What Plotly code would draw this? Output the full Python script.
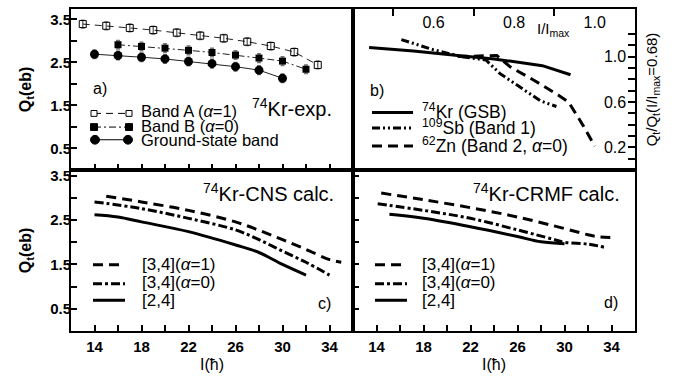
import plotly.graph_objects as go

# ---------------- data ----------------
# panel a) 74Kr experiment
I_bandA = [13, 15, 17, 19, 21, 23, 25, 27, 29, 31, 33]
Q_bandA = [3.39, 3.35, 3.30, 3.25, 3.19, 3.12, 3.06, 2.98, 2.88, 2.74, 2.44]
dQ_bandA = [0.09, 0.09, 0.09, 0.09, 0.09, 0.09, 0.09, 0.09, 0.09, 0.09, 0.09]
I_bandB = [16, 18, 20, 22, 24, 26, 28, 30, 32]
Q_bandB = [2.91, 2.87, 2.83, 2.78, 2.73, 2.67, 2.60, 2.53, 2.34]
dQ_bandB = [0.10, 0.10, 0.10, 0.10, 0.10, 0.10, 0.10, 0.10, 0.10]
I_gsb = [14, 16, 18, 20, 22, 24, 26, 28, 30]
Q_gsb = [2.69, 2.66, 2.62, 2.58, 2.52, 2.47, 2.40, 2.32, 2.13]
dQ_gsb = [0.10, 0.10, 0.10, 0.10, 0.10, 0.10, 0.10, 0.10, 0.10]

# panel b) normalised Qt vs I/Imax
x_kr = [0.44, 0.55, 0.66, 0.75, 0.87, 0.94]
y_kr = [1.08, 1.05, 1.01, 0.98, 0.92, 0.84]
x_sb = [0.52, 0.60, 0.67, 0.73, 0.765, 0.82, 0.865, 0.905]
y_sb = [1.15, 1.06, 1.00, 0.97, 0.85, 0.72, 0.61, 0.56]
x_zn = [0.66, 0.72, 0.757, 0.79, 0.85, 0.91, 0.935, 0.97, 1.0]
y_zn = [1.00, 1.01, 1.01, 0.91, 0.79, 0.66, 0.60, 0.40, 0.21]

# panel c) CNS calc.
I_cns_a1 = [15, 18, 22, 26, 28, 30, 32, 34, 35]
Q_cns_a1 = [3.04, 2.91, 2.72, 2.46, 2.27, 2.06, 1.84, 1.61, 1.55]
I_cns_a0 = [14, 18, 22, 26, 28, 30, 32, 34]
Q_cns_a0 = [2.91, 2.76, 2.54, 2.28, 2.06, 1.80, 1.55, 1.26]
I_cns_24 = [14, 16, 18, 22, 26, 28, 30, 32]
Q_cns_24 = [2.62, 2.57, 2.46, 2.24, 1.94, 1.77, 1.50, 1.26]

# panel d) CRMF calc.
I_crmf_a1 = [14.4, 18, 22, 26, 30, 32, 33, 34.3]
Q_crmf_a1 = [3.11, 2.96, 2.78, 2.57, 2.31, 2.17, 2.12, 2.11]
I_crmf_a0 = [14.1, 18, 22, 26, 29, 30, 32, 33.5]
Q_crmf_a0 = [2.87, 2.72, 2.54, 2.28, 2.07, 2.00, 1.96, 1.88]
I_crmf_24 = [15.1, 18, 22, 26, 28, 30]
Q_crmf_24 = [2.63, 2.54, 2.35, 2.13, 2.01, 1.97]

# ticks
I_tickvals = [14, 16, 18, 20, 22, 24, 26, 28, 30, 32, 34]
I_ticktext = ['14', '', '18', '', '22', '', '26', '', '30', '', '34']
Q_tickvals = [0.5, 1.0, 1.5, 2.0, 2.5, 3.0, 3.5]
Q_ticktext = ['0.5', '', '1.5', '', '2.5', '', '3.5']
r_tickvals = [0.6, 0.8, 1.0]
r_ticktext = ['0.6', '0.8', '1.0']
r_minorvals = [0.5, 0.7, 0.9]
n_tickvals = [0.1, 0.2, 0.3, 0.4, 0.5, 0.6, 0.7, 0.8, 0.9, 1.0, 1.1, 1.2, 1.3]
n_ticktext = ['', '0.2', '', '', '', '0.6', '', '', '', '1.0', '', '', '']

# ---------------- layout helpers ----------------
W, H = 674, 377
ML, MR, MT, MB = 71, 39, 6, 41
PW, PH = W - ML - MR, H - MT - MB
def px(x):
    return (x - ML) / PW
def py(y):
    return (H - MB - y) / PH

FONT = "Liberation Sans, Arial, Helvetica, sans-serif"
DASH_LONG = "10px,6px"
DASH_DOT = "9px,3px,3px,3px"
DASH_DOT2 = "8px,3px,2px,3px,2px,3px"

fig = go.Figure()

# panel a
fig.add_trace(go.Scatter(
    x=I_bandA, y=Q_bandA, xaxis='x', yaxis='y', mode='lines+markers',
    error_y=dict(type='data', array=dQ_bandA, color='#777', thickness=1.5, width=2),
    line=dict(color='#222', width=1, dash='7px,5px'),
    marker=dict(symbol='square-open', size=7, color='black', line=dict(width=1))))
fig.add_trace(go.Scatter(
    x=I_bandB, y=Q_bandB, xaxis='x', yaxis='y', mode='lines+markers',
    error_y=dict(type='data', array=dQ_bandB, color='#777', thickness=1.5, width=2),
    line=dict(color='#222', width=1, dash='7px,3px,2px,3px'),
    marker=dict(symbol='square', size=7, color='black')))
fig.add_trace(go.Scatter(
    x=I_gsb, y=Q_gsb, xaxis='x', yaxis='y', mode='lines+markers',
    error_y=dict(type='data', array=dQ_gsb, color='#777', thickness=1.5, width=2),
    line=dict(color='#222', width=1),
    marker=dict(symbol='circle', size=9, color='black')))

# panel b
fig.add_trace(go.Scatter(x=x_kr, y=y_kr, xaxis='x2', yaxis='y2', mode='lines',
                         line=dict(color='black', width=3)))
fig.add_trace(go.Scatter(x=x_sb, y=y_sb, xaxis='x2', yaxis='y2', mode='lines',
                         line=dict(color='black', width=3, dash=DASH_DOT2)))
fig.add_trace(go.Scatter(x=x_zn, y=y_zn, xaxis='x2', yaxis='y2', mode='lines',
                         line=dict(color='black', width=3, dash=DASH_LONG)))

# panel c
fig.add_trace(go.Scatter(x=I_cns_a1, y=Q_cns_a1, xaxis='x3', yaxis='y3', mode='lines',
                         line=dict(color='black', width=3, dash=DASH_LONG, shape='spline')))
fig.add_trace(go.Scatter(x=I_cns_a0, y=Q_cns_a0, xaxis='x3', yaxis='y3', mode='lines',
                         line=dict(color='black', width=3, dash=DASH_DOT, shape='spline')))
fig.add_trace(go.Scatter(x=I_cns_24, y=Q_cns_24, xaxis='x3', yaxis='y3', mode='lines',
                         line=dict(color='black', width=3, shape='spline')))

# panel d
fig.add_trace(go.Scatter(x=I_crmf_a1, y=Q_crmf_a1, xaxis='x4', yaxis='y4', mode='lines',
                         line=dict(color='black', width=3, dash=DASH_LONG, shape='spline')))
fig.add_trace(go.Scatter(x=I_crmf_a0, y=Q_crmf_a0, xaxis='x4', yaxis='y4', mode='lines',
                         line=dict(color='black', width=3, dash=DASH_DOT, shape='spline')))
fig.add_trace(go.Scatter(x=I_crmf_24, y=Q_crmf_24, xaxis='x4', yaxis='y4', mode='lines',
                         line=dict(color='black', width=3, shape='spline')))

frame = dict(showline=True, linecolor='black', linewidth=2, mirror=True, showgrid=False,
             zeroline=False, ticks='inside', ticklen=6, tickwidth=1.5, tickcolor='black')
tickfont_b = dict(family=FONT, size=15, color='black', weight='bold')
tickfont_n = dict(family=FONT, size=16, color='black')

fig.update_layout(
    width=W, height=H, margin=dict(l=ML, r=MR, t=MT, b=MB),
    paper_bgcolor='white', plot_bgcolor='white', showlegend=False,
    font=dict(family=FONT, color='black'),
    xaxis=dict(frame, domain=[0, 0.5], range=[12, 36], anchor='y',
               tickvals=I_tickvals, showticklabels=False),
    yaxis=dict(frame, domain=[0.5, 1], range=[0, 3.74], anchor='x',
               tickvals=Q_tickvals, ticktext=Q_ticktext, tickfont=tickfont_b,
               ticklabelstandoff=-5,
               title=dict(text='<b>Q<sub>t</sub>(eb)</b>', font=dict(family=FONT, size=16),
                          standoff=15)),
    xaxis2=dict(frame, domain=[0.5, 1], range=[0.4, 1.1], anchor='y2', side='top',
                tickvals=r_tickvals, ticktext=r_ticktext, ticks='', tickfont=tickfont_n,
                ticklabelposition='inside', ticklabelstandoff=8,
                minor=dict(tickvals=r_minorvals, ticks='inside', ticklen=7,
                           tickwidth=1.5, tickcolor='black')),
    yaxis2=dict(frame, domain=[0.5, 1], range=[0, 1.42], anchor='x2', side='right',
                tickvals=n_tickvals, ticktext=n_ticktext, ticklen=7, tickfont=tickfont_n,
                ticklabelposition='inside', ticklabelstandoff=2,
                title=dict(text='Q<sub>t</sub>/Q<sub>t</sub>(I/I<sub>max</sub>=0.68)',
                           font=dict(family=FONT, size=15), standoff=21)),
    xaxis3=dict(frame, domain=[0, 0.5], range=[12, 36], anchor='y3',
                tickvals=I_tickvals, ticktext=I_ticktext, tickfont=tickfont_b,
                ticklabelstandoff=1,
                title=dict(text='I(ħ)', font=dict(family=FONT, size=16), standoff=5)),
    yaxis3=dict(frame, domain=[0, 0.5], range=[0, 3.63], anchor='x3',
                tickvals=Q_tickvals, ticktext=Q_ticktext, tickfont=tickfont_b,
                ticklabelstandoff=-5,
                title=dict(text='<b>Q<sub>t</sub>(eb)</b>', font=dict(family=FONT, size=16),
                           standoff=15)),
    xaxis4=dict(frame, domain=[0.5, 1], range=[12, 36], anchor='y4',
                tickvals=I_tickvals, ticktext=I_ticktext, tickfont=tickfont_b,
                ticklabelstandoff=1,
                title=dict(text='I(ħ)', font=dict(family=FONT, size=16), standoff=5)),
    yaxis4=dict(frame, domain=[0, 0.5], range=[0, 3.63], anchor='x4',
                tickvals=Q_tickvals, showticklabels=False),
)

# ---------------- annotations ----------------
ann = []
def text(x, y, s, size=16, xanchor='left'):
    ann.append(dict(x=px(x), y=py(y), xref='paper', yref='paper', text=s, showarrow=False,
                    xanchor=xanchor, yanchor='middle', font=dict(family=FONT, size=size, color='black')))

text(91, 87, 'a)')
text(334, 107, '<sup>74</sup>Kr-exp.', size=20, xanchor='right')
text(139, 111, 'Band A (<i>α</i>=1)', size=16.5)
text(139, 125.5, 'Band B (<i>α</i>=0)', size=16.5)
text(139, 140, 'Ground-state band', size=16.5)

text(368, 90, 'b)')
text(420, 111, '<sup>74</sup>Kr (GSB)', size=17.5)
text(420, 127, '<sup>109</sup>Sb (Band 1)', size=17.5)
text(420, 145.5, '<sup>62</sup>Zn (Band 2, <i>α</i>=0)', size=17.5)
text(535, 27, 'I/I<sub>max</sub>', size=15)

text(336, 194, '<sup>74</sup>Kr-CNS calc.', size=20, xanchor='right')
text(140, 268, '[3,4](<i>α</i>=1)', size=17)
text(140, 286.5, '[3,4](<i>α</i>=0)', size=17)
text(140, 305, '[2,4]', size=17)
text(316, 308, 'c)')

text(622, 194, '<sup>74</sup>Kr-CRMF calc.', size=20, xanchor='right')
text(420, 268, '[3,4](<i>α</i>=1)', size=17)
text(420, 286.5, '[3,4](<i>α</i>=0)', size=17)
text(420, 305, '[2,4]', size=17)
text(602, 307, 'd)')
fig.update_layout(annotations=ann)

# ---------------- legend keys ----------------
shapes = []
def key_line(x0, x1, y, dash='solid', width=3):
    shapes.append(dict(type='line', xref='paper', yref='paper', x0=px(x0), x1=px(x1),
                       y0=py(y), y1=py(y), line=dict(color='black', width=width, dash=dash)))
def key_rect(x, y, s, fill):
    shapes.append(dict(type='rect', xref='paper', yref='paper', x0=px(x - s / 2), x1=px(x + s / 2),
                       y0=py(y + s / 2), y1=py(y - s / 2), fillcolor=fill,
                       line=dict(color='black', width=1)))
def key_circ(x, y, s):
    shapes.append(dict(type='circle', xref='paper', yref='paper', x0=px(x - s / 2), x1=px(x + s / 2),
                       y0=py(y + s / 2), y1=py(y - s / 2), fillcolor='black',
                       line=dict(color='black', width=1)))

# a)
key_line(94, 129, 113, dash='7px,5px', width=1)
key_rect(94, 113, 6, 'white'); key_rect(129, 113, 6, 'white')
key_line(94, 129, 127, dash='7px,3px,2px,3px', width=1)
key_rect(94, 127, 7, 'black'); key_rect(129, 127, 7, 'black')
key_line(95, 128, 140, width=1)
key_circ(95, 140, 9); key_circ(128, 140, 9)
# b)
key_line(372, 413, 112)
key_line(372, 413, 128, dash=DASH_DOT2)
key_line(372, 413, 146.5, dash=DASH_LONG)
# c)
key_line(93, 125, 268, dash=DASH_LONG)
key_line(93, 125, 287.5, dash=DASH_DOT)
key_line(93, 125, 304.5)
# d)
key_line(375, 407, 268, dash=DASH_LONG)
key_line(375, 407, 287.5, dash=DASH_DOT)
key_line(375, 407, 304.5)
fig.update_layout(shapes=shapes)

fig.write_html("out.html", config={'displayModeBar': False},
               post_script="document.body.style.margin='0';")
